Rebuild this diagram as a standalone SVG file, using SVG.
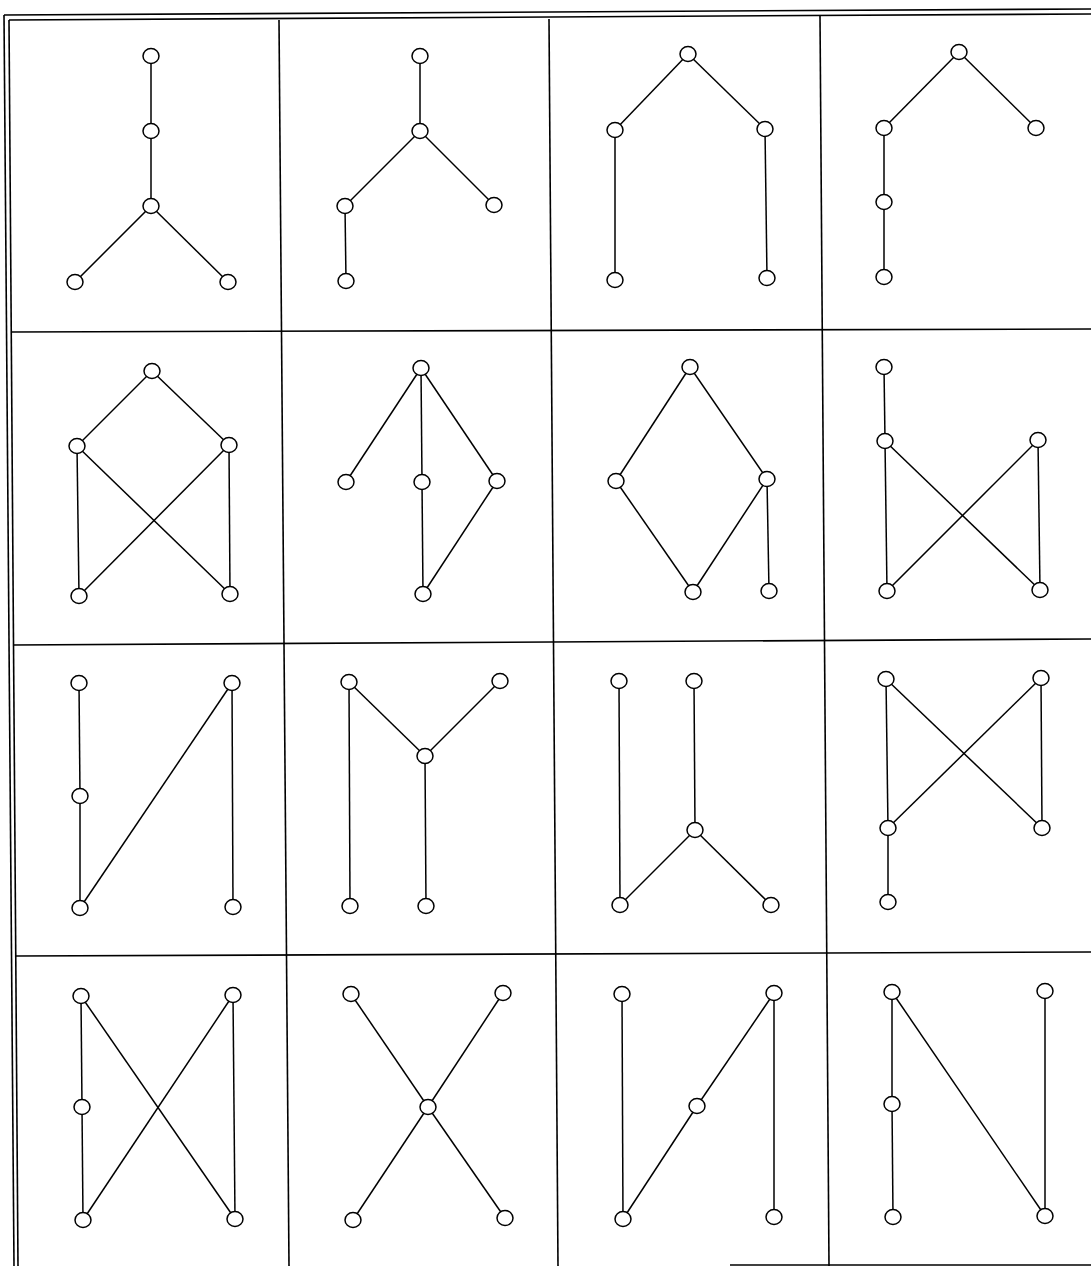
<svg xmlns="http://www.w3.org/2000/svg" width="1091" height="1266" viewBox="0 0 1091 1266">
<style>
.g{stroke:#000;stroke-width:1.6;fill:none}
.e{stroke:#000;stroke-width:1.5;fill:none}
.n{stroke:#000;stroke-width:1.5;fill:#fff}
</style>
<rect width="1091" height="1266" fill="#fff"/>
<g id="grid" class="g">
<line x1="4" y1="15" x2="1091" y2="9"/>
<line x1="9" y1="20" x2="1091" y2="14"/>
<line x1="4" y1="15" x2="14" y2="1266"/>
<line x1="9" y1="20" x2="18" y2="1266"/>
<line x1="279" y1="20" x2="289" y2="1266"/>
<line x1="549" y1="19" x2="558" y2="1266"/>
<line x1="820" y1="16" x2="829" y2="1266"/>
<line x1="11" y1="332" x2="1091" y2="329"/>
<line x1="13" y1="645" x2="1091" y2="639"/>
<line x1="16" y1="956" x2="1091" y2="952"/>
<line x1="730" y1="1265" x2="1091" y2="1265"/>
</g>
<g id="connectors" class="e">
<line x1="151" y1="56" x2="151" y2="131"/><line x1="151" y1="131" x2="151" y2="206"/><line x1="151" y1="206" x2="75" y2="282"/><line x1="151" y1="206" x2="228" y2="282"/>
<line x1="420" y1="56" x2="420" y2="131"/><line x1="420" y1="131" x2="345" y2="206"/><line x1="420" y1="131" x2="494" y2="205"/><line x1="345" y1="206" x2="346" y2="281"/>
<line x1="688" y1="54" x2="615" y2="130"/><line x1="688" y1="54" x2="765" y2="129"/><line x1="615" y1="130" x2="615" y2="280"/><line x1="765" y1="129" x2="767" y2="278"/>
<line x1="959" y1="52" x2="884" y2="128"/><line x1="959" y1="52" x2="1036" y2="128"/><line x1="884" y1="128" x2="884" y2="202"/><line x1="884" y1="202" x2="884" y2="277"/>
<line x1="152" y1="371" x2="77" y2="446"/><line x1="152" y1="371" x2="229" y2="445"/><line x1="77" y1="446" x2="79" y2="596"/><line x1="229" y1="445" x2="230" y2="594"/><line x1="77" y1="446" x2="230" y2="594"/><line x1="229" y1="445" x2="79" y2="596"/>
<line x1="421" y1="368" x2="346" y2="482"/><line x1="421" y1="368" x2="422" y2="482"/><line x1="421" y1="368" x2="497" y2="481"/><line x1="422" y1="482" x2="423" y2="594"/><line x1="497" y1="481" x2="423" y2="594"/>
<line x1="690" y1="367" x2="616" y2="481"/><line x1="690" y1="367" x2="767" y2="479"/><line x1="616" y1="481" x2="693" y2="592"/><line x1="767" y1="479" x2="693" y2="592"/><line x1="767" y1="479" x2="769" y2="591"/>
<line x1="884" y1="367" x2="885" y2="441"/><line x1="885" y1="441" x2="887" y2="591"/><line x1="885" y1="441" x2="1040" y2="590"/><line x1="1038" y1="440" x2="887" y2="591"/><line x1="1038" y1="440" x2="1040" y2="590"/>
<line x1="79" y1="683" x2="80" y2="796"/><line x1="80" y1="796" x2="80" y2="908"/><line x1="80" y1="908" x2="232" y2="683"/><line x1="232" y1="683" x2="233" y2="907"/>
<line x1="349" y1="682" x2="425" y2="756"/><line x1="500" y1="681" x2="425" y2="756"/><line x1="425" y1="756" x2="426" y2="906"/><line x1="349" y1="682" x2="350" y2="906"/>
<line x1="619" y1="681" x2="620" y2="905"/><line x1="694" y1="681" x2="695" y2="830"/><line x1="695" y1="830" x2="620" y2="905"/><line x1="695" y1="830" x2="771" y2="905"/>
<line x1="886" y1="679" x2="888" y2="828"/><line x1="888" y1="828" x2="888" y2="902"/><line x1="886" y1="679" x2="1042" y2="828"/><line x1="1041" y1="678" x2="888" y2="828"/><line x1="1041" y1="678" x2="1042" y2="828"/>
<line x1="81" y1="996" x2="82" y2="1107"/><line x1="82" y1="1107" x2="83" y2="1220"/><line x1="81" y1="996" x2="235" y2="1219"/><line x1="233" y1="995" x2="83" y2="1220"/><line x1="233" y1="995" x2="235" y2="1219"/>
<line x1="351" y1="994" x2="428" y2="1107"/><line x1="503" y1="993" x2="428" y2="1107"/><line x1="428" y1="1107" x2="353" y2="1220"/><line x1="428" y1="1107" x2="505" y2="1218"/>
<line x1="622" y1="994" x2="623" y2="1219"/><line x1="774" y1="993" x2="697" y2="1106"/><line x1="697" y1="1106" x2="623" y2="1219"/><line x1="774" y1="993" x2="774" y2="1217"/>
<line x1="892" y1="992" x2="892" y2="1104"/><line x1="892" y1="1104" x2="893" y2="1217"/><line x1="892" y1="992" x2="1045" y2="1216"/><line x1="1045" y1="991" x2="1045" y2="1216"/>
</g>
<g id="nodes" class="n">
<g id="cell1"><ellipse id="c1a" cx="151" cy="56" rx="8" ry="7.5"/><ellipse id="c1b" cx="151" cy="131" rx="8" ry="7.5"/><ellipse id="c1c" cx="151" cy="206" rx="8" ry="7.5"/><ellipse id="c1d" cx="75" cy="282" rx="8" ry="7.5"/><ellipse id="c1e" cx="228" cy="282" rx="8" ry="7.5"/></g>
<g id="cell2"><ellipse id="c2a" cx="420" cy="56" rx="8" ry="7.5"/><ellipse id="c2b" cx="420" cy="131" rx="8" ry="7.5"/><ellipse id="c2c" cx="345" cy="206" rx="8" ry="7.5"/><ellipse id="c2d" cx="494" cy="205" rx="8" ry="7.5"/><ellipse id="c2e" cx="346" cy="281" rx="8" ry="7.5"/></g>
<g id="cell3"><ellipse id="c3a" cx="688" cy="54" rx="8" ry="7.5"/><ellipse id="c3b" cx="615" cy="130" rx="8" ry="7.5"/><ellipse id="c3c" cx="765" cy="129" rx="8" ry="7.5"/><ellipse id="c3d" cx="615" cy="280" rx="8" ry="7.5"/><ellipse id="c3e" cx="767" cy="278" rx="8" ry="7.5"/></g>
<g id="cell4"><ellipse id="c4a" cx="959" cy="52" rx="8" ry="7.5"/><ellipse id="c4b" cx="884" cy="128" rx="8" ry="7.5"/><ellipse id="c4c" cx="1036" cy="128" rx="8" ry="7.5"/><ellipse id="c4d" cx="884" cy="202" rx="8" ry="7.5"/><ellipse id="c4e" cx="884" cy="277" rx="8" ry="7.5"/></g>
<g id="cell5"><ellipse id="c5a" cx="152" cy="371" rx="8" ry="7.5"/><ellipse id="c5b" cx="77" cy="446" rx="8" ry="7.5"/><ellipse id="c5c" cx="229" cy="445" rx="8" ry="7.5"/><ellipse id="c5d" cx="79" cy="596" rx="8" ry="7.5"/><ellipse id="c5e" cx="230" cy="594" rx="8" ry="7.5"/></g>
<g id="cell6"><ellipse id="c6a" cx="421" cy="368" rx="8" ry="7.5"/><ellipse id="c6b" cx="346" cy="482" rx="8" ry="7.5"/><ellipse id="c6c" cx="422" cy="482" rx="8" ry="7.5"/><ellipse id="c6d" cx="497" cy="481" rx="8" ry="7.5"/><ellipse id="c6e" cx="423" cy="594" rx="8" ry="7.5"/></g>
<g id="cell7"><ellipse id="c7a" cx="690" cy="367" rx="8" ry="7.5"/><ellipse id="c7b" cx="616" cy="481" rx="8" ry="7.5"/><ellipse id="c7c" cx="767" cy="479" rx="8" ry="7.5"/><ellipse id="c7d" cx="693" cy="592" rx="8" ry="7.5"/><ellipse id="c7e" cx="769" cy="591" rx="8" ry="7.5"/></g>
<g id="cell8"><ellipse id="c8a" cx="884" cy="367" rx="8" ry="7.5"/><ellipse id="c8b" cx="885" cy="441" rx="8" ry="7.5"/><ellipse id="c8c" cx="1038" cy="440" rx="8" ry="7.5"/><ellipse id="c8d" cx="887" cy="591" rx="8" ry="7.5"/><ellipse id="c8e" cx="1040" cy="590" rx="8" ry="7.5"/></g>
<g id="cell9"><ellipse id="c9a" cx="79" cy="683" rx="8" ry="7.5"/><ellipse id="c9b" cx="80" cy="796" rx="8" ry="7.5"/><ellipse id="c9c" cx="232" cy="683" rx="8" ry="7.5"/><ellipse id="c9d" cx="80" cy="908" rx="8" ry="7.5"/><ellipse id="c9e" cx="233" cy="907" rx="8" ry="7.5"/></g>
<g id="cell10"><ellipse id="c10a" cx="349" cy="682" rx="8" ry="7.5"/><ellipse id="c10b" cx="500" cy="681" rx="8" ry="7.5"/><ellipse id="c10c" cx="425" cy="756" rx="8" ry="7.5"/><ellipse id="c10d" cx="350" cy="906" rx="8" ry="7.5"/><ellipse id="c10e" cx="426" cy="906" rx="8" ry="7.5"/></g>
<g id="cell11"><ellipse id="c11a" cx="619" cy="681" rx="8" ry="7.5"/><ellipse id="c11b" cx="694" cy="681" rx="8" ry="7.5"/><ellipse id="c11c" cx="695" cy="830" rx="8" ry="7.5"/><ellipse id="c11d" cx="620" cy="905" rx="8" ry="7.5"/><ellipse id="c11e" cx="771" cy="905" rx="8" ry="7.5"/></g>
<g id="cell12"><ellipse id="c12a" cx="886" cy="679" rx="8" ry="7.5"/><ellipse id="c12b" cx="1041" cy="678" rx="8" ry="7.5"/><ellipse id="c12c" cx="888" cy="828" rx="8" ry="7.5"/><ellipse id="c12d" cx="1042" cy="828" rx="8" ry="7.5"/><ellipse id="c12e" cx="888" cy="902" rx="8" ry="7.5"/></g>
<g id="cell13"><ellipse id="c13a" cx="81" cy="996" rx="8" ry="7.5"/><ellipse id="c13b" cx="233" cy="995" rx="8" ry="7.5"/><ellipse id="c13c" cx="82" cy="1107" rx="8" ry="7.5"/><ellipse id="c13d" cx="83" cy="1220" rx="8" ry="7.5"/><ellipse id="c13e" cx="235" cy="1219" rx="8" ry="7.5"/></g>
<g id="cell14"><ellipse id="c14a" cx="351" cy="994" rx="8" ry="7.5"/><ellipse id="c14b" cx="503" cy="993" rx="8" ry="7.5"/><ellipse id="c14c" cx="428" cy="1107" rx="8" ry="7.5"/><ellipse id="c14d" cx="353" cy="1220" rx="8" ry="7.5"/><ellipse id="c14e" cx="505" cy="1218" rx="8" ry="7.5"/></g>
<g id="cell15"><ellipse id="c15a" cx="622" cy="994" rx="8" ry="7.5"/><ellipse id="c15b" cx="774" cy="993" rx="8" ry="7.5"/><ellipse id="c15c" cx="697" cy="1106" rx="8" ry="7.5"/><ellipse id="c15d" cx="623" cy="1219" rx="8" ry="7.5"/><ellipse id="c15e" cx="774" cy="1217" rx="8" ry="7.5"/></g>
<g id="cell16"><ellipse id="c16a" cx="892" cy="992" rx="8" ry="7.5"/><ellipse id="c16b" cx="1045" cy="991" rx="8" ry="7.5"/><ellipse id="c16c" cx="892" cy="1104" rx="8" ry="7.5"/><ellipse id="c16d" cx="893" cy="1217" rx="8" ry="7.5"/><ellipse id="c16e" cx="1045" cy="1216" rx="8" ry="7.5"/></g>
</g>
</svg>
